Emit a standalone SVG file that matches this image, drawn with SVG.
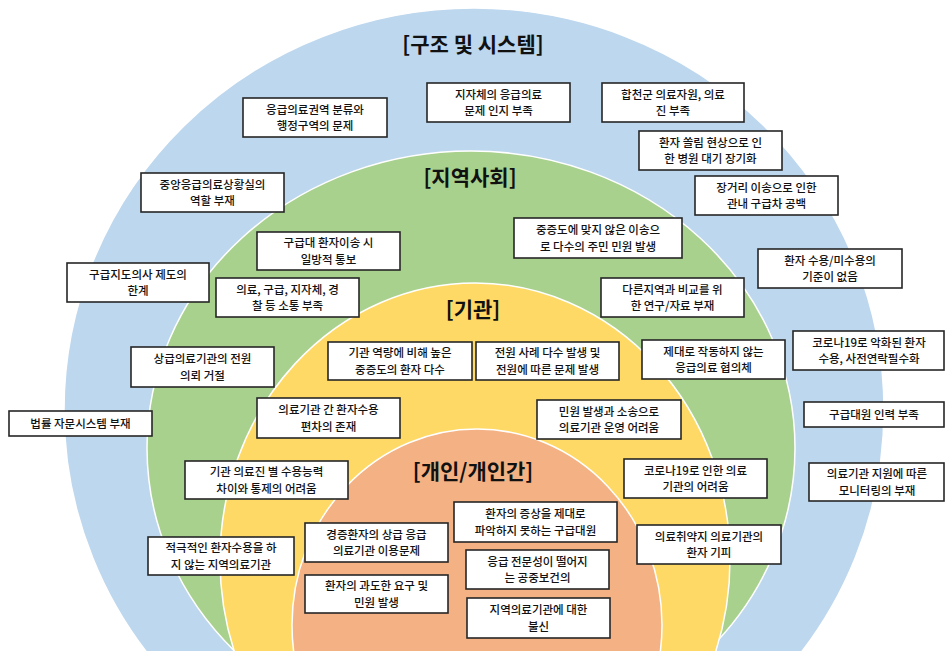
<svg xmlns="http://www.w3.org/2000/svg" width="945" height="651" viewBox="0 0 945 651">
<style>
.lyr{stroke:#ffffff;stroke-width:1.5}
.box{fill:#ffffff;stroke:#262626;stroke-width:1.6}
.t{font-family:"Noto Sans CJK KR","Malgun Gothic",sans-serif;font-size:11.5px;font-weight:500;fill:#111111;text-anchor:middle}
.h{font-family:"Noto Sans CJK KR",sans-serif;font-size:21px;font-weight:bold;fill:#111111;text-anchor:middle}
</style>
<rect width="945" height="651" fill="#ffffff"/>
<g id="layers">
<ellipse class="lyr" cx="474" cy="410" rx="410" ry="402" fill="#BDD7EE"/>
<ellipse class="lyr" cx="471" cy="448" rx="324" ry="297" fill="#A9D18E"/>
<ellipse class="lyr" cx="475" cy="560" rx="255" ry="277" fill="#FFD966"/>
<ellipse class="lyr" cx="477" cy="625" rx="185" ry="196" fill="#F4B183"/>
</g>
<g id="titles">
<text class="h" x="473" y="52">[구조 및 시스템]</text>
<text class="h" x="470" y="185">[지역사회]</text>
<text class="h" x="473" y="317">[기관]</text>
<text class="h" x="473" y="479">[개인/개인간]</text>
</g>
<g id="n1"><rect class="box" x="243" y="98" width="144" height="39"/><text class="t" x="315" y="113.5">응급의료권역 분류와<tspan x="315" dy="16.8">행정구역의 문제</tspan></text></g>
<g id="n2"><rect class="box" x="427" y="83" width="143" height="39"/><text class="t" x="498.5" y="98.5">지자체의 응급의료<tspan x="498.5" dy="16.8">문제 인지 부족</tspan></text></g>
<g id="n3"><rect class="box" x="602" y="83" width="142" height="39"/><text class="t" x="673" y="98.5">합천군 의료자원, 의료<tspan x="673" dy="16.8">진 부족</tspan></text></g>
<g id="n4"><rect class="box" x="639" y="131" width="143" height="39"/><text class="t" x="710.5" y="146.5">환자 쏠림 현상으로 인<tspan x="710.5" dy="16.8">한 병원 대기 장기화</tspan></text></g>
<g id="n5"><rect class="box" x="695" y="176" width="143" height="39"/><text class="t" x="766.5" y="191.5">장거리 이송으로 인한<tspan x="766.5" dy="16.8">관내 구급차 공백</tspan></text></g>
<g id="n6"><rect class="box" x="141" y="173" width="143" height="39"/><text class="t" x="212.5" y="188.5">중앙응급의료상황실의<tspan x="212.5" dy="16.8">역할 부재</tspan></text></g>
<g id="n7"><rect class="box" x="514" y="218" width="168" height="40"/><text class="t" x="598" y="234">중증도에 맞지 않은 이송으<tspan x="598" dy="16.8">로 다수의 주민 민원 발생</tspan></text></g>
<g id="n8"><rect class="box" x="257" y="232" width="143" height="38"/><text class="t" x="328.5" y="247">구급대 환자이송 시<tspan x="328.5" dy="16.8">일방적 통보</tspan></text></g>
<g id="n9"><rect class="box" x="758" y="249" width="144" height="39"/><text class="t" x="830" y="264.5">환자 수용/미수용의<tspan x="830" dy="16.8">기준이 없음</tspan></text></g>
<g id="n10"><rect class="box" x="67" y="263" width="142" height="39"/><text class="t" x="138" y="278.5">구급지도의사 제도의<tspan x="138" dy="16.8">한계</tspan></text></g>
<g id="n11"><rect class="box" x="216" y="278" width="143" height="39"/><text class="t" x="287.5" y="293.5">의료, 구급, 지자체, 경<tspan x="287.5" dy="16.8">찰 등 소통 부족</tspan></text></g>
<g id="n12"><rect class="box" x="601" y="278" width="143" height="39"/><text class="t" x="672.5" y="293.5">다른지역과 비교를 위<tspan x="672.5" dy="16.8">한 연구/자료 부재</tspan></text></g>
<g id="n13"><rect class="box" x="793" y="331" width="151" height="39"/><text class="t" x="869" y="346.5">코로나19로 악화된 환자<tspan x="869" dy="16.8">수용, 사전연락필수화</tspan></text></g>
<g id="n14"><rect class="box" x="328" y="342" width="144" height="38"/><text class="t" x="400" y="357">기관 역량에 비해 높은<tspan x="400" dy="16.8">중증도의 환자 다수</tspan></text></g>
<g id="n15"><rect class="box" x="476" y="342" width="143" height="38"/><text class="t" x="547.5" y="357">전원 사례 다수 발생 및<tspan x="547.5" dy="16.8">전원에 따른 문제 발생</tspan></text></g>
<g id="n16"><rect class="box" x="642" y="340" width="143" height="39"/><text class="t" x="713.5" y="355.5">제대로 작동하지 않는<tspan x="713.5" dy="16.8">응급의료 협의체</tspan></text></g>
<g id="n17"><rect class="box" x="131" y="347" width="143" height="40"/><text class="t" x="202.5" y="363">상급의료기관의 전원<tspan x="202.5" dy="16.8">의뢰 거절</tspan></text></g>
<g id="n18"><rect class="box" x="257" y="398" width="143" height="40"/><text class="t" x="328.5" y="414">의료기관 간 환자수용<tspan x="328.5" dy="16.8">편차의 존재</tspan></text></g>
<g id="n19"><rect class="box" x="537" y="400" width="144" height="39"/><text class="t" x="609" y="415.5">민원 발생과 소송으로<tspan x="609" dy="16.8">의료기관 운영 어려움</tspan></text></g>
<g id="n20"><rect class="box" x="9" y="411" width="143" height="25"/><text class="t" x="80.5" y="427.5">법률 자문시스템 부재</text></g>
<g id="n21"><rect class="box" x="804" y="402" width="140" height="25"/><text class="t" x="874" y="418.5">구급대원 인력 부족</text></g>
<g id="n22"><rect class="box" x="185" y="461" width="163" height="38"/><text class="t" x="266.5" y="476">기관 의료진 별 수용능력<tspan x="266.5" dy="16.8">차이와 통제의 어려움</tspan></text></g>
<g id="n23"><rect class="box" x="624" y="459" width="143" height="39"/><text class="t" x="695.5" y="474.5">코로나19로 인한 의료<tspan x="695.5" dy="16.8">기관의 어려움</tspan></text></g>
<g id="n24"><rect class="box" x="809" y="463" width="135" height="38"/><text class="t" x="877" y="478">의료기관 지원에 따른<tspan x="877" dy="16.8">모니터링의 부재</tspan></text></g>
<g id="n25"><rect class="box" x="454" y="502" width="163" height="40"/><text class="t" x="535.5" y="518">환자의 증상을 제대로<tspan x="535.5" dy="16.8">파악하지 못하는 구급대원</tspan></text></g>
<g id="n26"><rect class="box" x="305" y="523" width="143" height="39"/><text class="t" x="376.5" y="538.5">경증환자의 상급 응급<tspan x="376.5" dy="16.8">의료기관 이용문제</tspan></text></g>
<g id="n27"><rect class="box" x="637" y="525" width="144" height="39"/><text class="t" x="709" y="540.5">의료취약지 의료기관의<tspan x="709" dy="16.8">환자 기피</tspan></text></g>
<g id="n28"><rect class="box" x="148" y="537" width="146" height="38"/><text class="t" x="221" y="552">적극적인 환자수용을 하<tspan x="221" dy="16.8">지 않는 지역의료기관</tspan></text></g>
<g id="n29"><rect class="box" x="466" y="550" width="143" height="39"/><text class="t" x="537.5" y="565.5">응급 전문성이 떨어지<tspan x="537.5" dy="16.8">는 공중보건의</tspan></text></g>
<g id="n30"><rect class="box" x="305" y="575" width="143" height="38"/><text class="t" x="376.5" y="590">환자의 과도한 요구 및<tspan x="376.5" dy="16.8">민원 발생</tspan></text></g>
<g id="n31"><rect class="box" x="467" y="598" width="143" height="40"/><text class="t" x="538.5" y="614">지역의료기관에 대한<tspan x="538.5" dy="16.8">불신</tspan></text></g>
</svg>
